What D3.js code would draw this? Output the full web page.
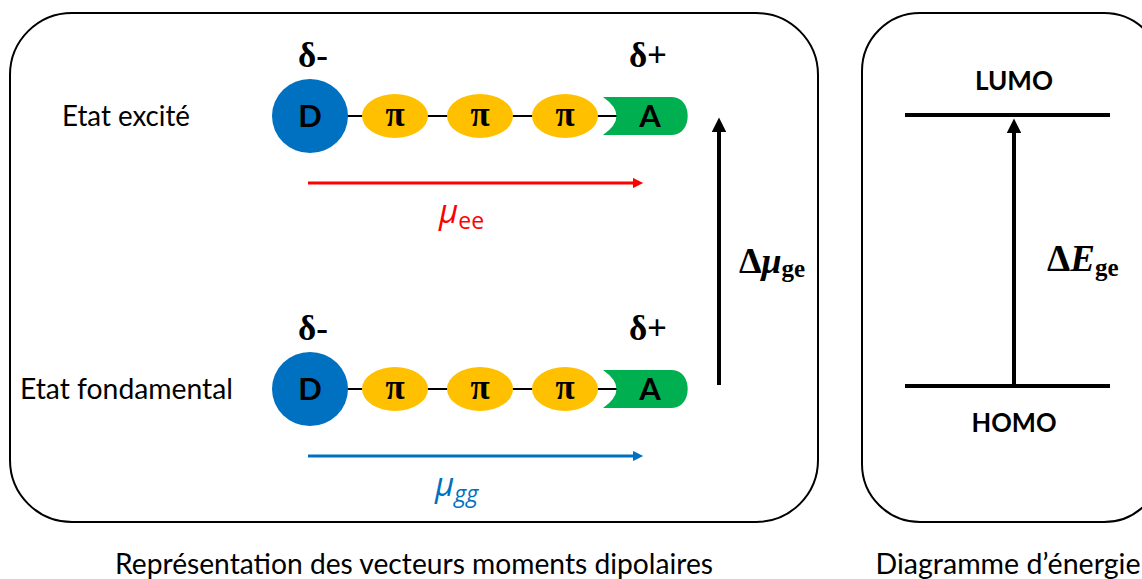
<!DOCTYPE html>
<html>
<head>
<meta charset="utf-8">
<script src="https://cdn.jsdelivr.net/npm/d3@7"></script>
<style>
  body { margin: 0; background: #fff; }
  svg { display: block; }
</style>
</head>
<body>
<div id="diagram"></div>
<script>
// states shown on the left panel (top = excited, bottom = ground)
const states = ["Etat excité", "Etat fondamental"];
const stateLabelWidths = [128, 213];
const dipoleLabels = [
  { mu: "μ", sub: "ee", subItalic: false, color: "#ff0000" },
  { mu: "μ", sub: "gg", subItalic: true, color: "#0070c0" }
];
// donor - pi bridge - acceptor chain
const chainUnits = ["D", "π", "π", "π", "A"];
const chainKinds = ["donor", "pi", "pi", "pi", "acceptor"];
const charges = ["δ-", "δ+"];
// energy levels for the right panel
const levels = ["HOMO", "LUMO"];
const levelLabelWidths = { HOMO: 85, LUMO: 78 };
const captions = ["Représentation des vecteurs moments dipolaires", "Diagramme d’énergie"];
const captionWidths = [598, 265];

const width = 1142, height = 579;
const sans = "Lato, 'Open Sans', sans-serif";
const serif = "'Liberation Serif', 'DejaVu Serif', serif";

const svg = d3.select("#diagram").append("svg")
  .attr("width", width)
  .attr("height", height);

const defs = svg.append("defs");

// scales
const yState = d3.scalePoint().domain(states).range([116, 389]);
const xChain = d3.scalePoint().domain(d3.range(chainUnits.length)).range([310, 650]);
const yLevel = d3.scalePoint().domain(levels).range([386, 115]);

// panel frames
svg.append("rect")
  .attr("x", 10).attr("y", 13)
  .attr("width", 808).attr("height", 509)
  .attr("rx", 62).attr("ry", 62)
  .attr("fill", "none").attr("stroke", "#000").attr("stroke-width", 2);

svg.append("rect")
  .attr("x", 862).attr("y", 13)
  .attr("width", 300).attr("height", 509)
  .attr("rx", 58).attr("ry", 58)
  .attr("fill", "none").attr("stroke", "#000").attr("stroke-width", 2);

// one group per state
const row = svg.selectAll("g.state")
  .data(states)
  .join("g")
  .attr("class", "state")
  .attr("transform", d => `translate(0,${yState(d)})`);

row.append("text")
  .attr("x", (d, i) => i === 0 ? 62 : 20)
  .attr("y", 10)
  .attr("font-family", sans)
  .attr("font-size", 28)
  .attr("textLength", (d, i) => stateLabelWidths[i])
  .attr("lengthAdjust", "spacingAndGlyphs")
  .attr("fill", "#000")
  .text(d => d);

// bonds
row.append("line")
  .attr("x1", xChain(0)).attr("x2", xChain(4) - 20)
  .attr("y1", 0).attr("y2", 0)
  .attr("stroke", "#000").attr("stroke-width", 2);

// chain units
row.each(function() {
  const g = d3.select(this);
  chainUnits.forEach((u, i) => {
    const cx = xChain(i);
    const kind = chainKinds[i];
    if (kind === "donor") {
      g.append("ellipse")
        .attr("cx", cx).attr("cy", 0)
        .attr("rx", 38).attr("ry", 37)
        .attr("fill", "#0070c0");
    } else if (kind === "pi") {
      g.append("ellipse")
        .attr("cx", cx).attr("cy", 0)
        .attr("rx", 33).attr("ry", 22)
        .attr("fill", "#ffc000");
    } else {
      const l = cx - 47, r = cx + 38, t = -19, b = 19;
      const p = d3.path();
      p.moveTo(l, t);
      p.lineTo(r - 16, t);
      p.bezierCurveTo(r + 5, t, r + 5, b, r - 16, b);
      p.lineTo(l, b);
      p.quadraticCurveTo(l + 27, 0, l, t);
      p.closePath();
      g.append("path").attr("d", p.toString()).attr("fill", "#00b050");
    }
    g.append("text")
      .attr("x", cx).attr("y", kind === "pi" ? 10 : 11)
      .attr("text-anchor", "middle")
      .attr("font-family", kind === "pi" ? serif : sans)
      .attr("font-weight", "bold")
      .attr("font-size", kind === "pi" ? 35 : 31)
      .attr("fill", "#000")
      .text(u);
  });
});

// partial charges above the donor and acceptor
row.selectAll("text.charge")
  .data(charges)
  .join("text")
  .attr("class", "charge")
  .attr("x", (d, i) => i === 0 ? xChain(0) + 3 : xChain(4) - 2)
  .attr("y", -49)
  .attr("text-anchor", "middle")
  .attr("font-family", serif)
  .attr("font-weight", "bold")
  .attr("font-size", 35)
  .attr("fill", "#000")
  .text(d => d);

// dipole moment arrows
dipoleLabels.forEach((d, i) => {
  defs.append("marker")
    .attr("id", "head" + i)
    .attr("viewBox", "0 0 10 10")
    .attr("refX", 0).attr("refY", 5)
    .attr("markerWidth", 4).attr("markerHeight", 3.4)
    .attr("markerUnits", "strokeWidth")
    .attr("orient", "auto")
    .append("path").attr("d", "M0,0L10,5L0,10Z").attr("fill", d.color);
});

row.append("line")
  .attr("x1", 308).attr("x2", 633)
  .attr("y1", 67).attr("y2", 67)
  .attr("stroke", (d, i) => dipoleLabels[i].color)
  .attr("stroke-width", 3)
  .attr("marker-end", (d, i) => `url(#head${i})`);

const mu = row.append("text")
  .attr("x", (d, i) => i === 0 ? 439 : 435).attr("y", 107)
  .attr("font-family", "'Open Sans', sans-serif")
  .attr("font-size", 33)
  .attr("fill", (d, i) => dipoleLabels[i].color);
mu.append("tspan").attr("font-style", "italic").text((d, i) => dipoleLabels[i].mu);
mu.append("tspan")
  .attr("font-size", 23).attr("dy", 6)
  .attr("font-style", (d, i) => dipoleLabels[i].subItalic ? "italic" : "normal")
  .text((d, i) => dipoleLabels[i].sub);

// black arrow marker
defs.append("marker")
  .attr("id", "headBlack")
  .attr("viewBox", "0 0 10 10")
  .attr("refX", 0).attr("refY", 5)
  .attr("markerWidth", 4).attr("markerHeight", 3.6)
  .attr("markerUnits", "strokeWidth")
  .attr("orient", "auto")
  .append("path").attr("d", "M0,0L10,5L0,10Z").attr("fill", "#000");

// change of dipole moment
svg.append("line")
  .attr("x1", 719).attr("x2", 719)
  .attr("y1", yState(states[1]) - 4).attr("y2", yState(states[0]) + 16)
  .attr("stroke", "#000").attr("stroke-width", 4)
  .attr("marker-end", "url(#headBlack)");

const dmu = svg.append("text")
  .attr("x", 739).attr("y", 273)
  .attr("font-family", serif)
  .attr("font-weight", "bold")
  .attr("font-size", 36)
  .attr("fill", "#000");
dmu.append("tspan").text("Δ");
dmu.append("tspan").attr("font-style", "italic").text("μ");
dmu.append("tspan").attr("font-size", 25).attr("dy", 4).text("ge");

// energy levels
svg.selectAll("line.level")
  .data(levels)
  .join("line")
  .attr("class", "level")
  .attr("x1", 905).attr("x2", 1110)
  .attr("y1", d => yLevel(d)).attr("y2", d => yLevel(d))
  .attr("stroke", "#000").attr("stroke-width", 4);

svg.selectAll("text.level")
  .data(levels)
  .join("text")
  .attr("class", "level")
  .attr("x", 1014)
  .attr("y", d => d === "LUMO" ? yLevel(d) - 25 : yLevel(d) + 46)
  .attr("text-anchor", "middle")
  .attr("font-family", sans)
  .attr("font-weight", "bold")
  .attr("font-size", 26)
  .attr("textLength", d => levelLabelWidths[d])
  .attr("lengthAdjust", "spacingAndGlyphs")
  .attr("fill", "#000")
  .text(d => d);

svg.append("line")
  .attr("x1", 1014).attr("x2", 1014)
  .attr("y1", yLevel("HOMO")).attr("y2", yLevel("LUMO") + 18)
  .attr("stroke", "#000").attr("stroke-width", 4)
  .attr("marker-end", "url(#headBlack)");

const de = svg.append("text")
  .attr("x", 1047).attr("y", 271)
  .attr("font-family", serif)
  .attr("font-weight", "bold")
  .attr("font-size", 37)
  .attr("fill", "#000");
de.append("tspan").text("Δ");
de.append("tspan").attr("font-style", "italic").text("E");
de.append("tspan").attr("font-size", 25).attr("dy", 5).text("ge");

// captions
svg.selectAll("text.caption")
  .data(captions)
  .join("text")
  .attr("class", "caption")
  .attr("x", (d, i) => i === 0 ? 414 : 1008)
  .attr("y", 574)
  .attr("text-anchor", "middle")
  .attr("font-family", sans)
  .attr("font-size", 28)
  .attr("textLength", (d, i) => captionWidths[i])
  .attr("lengthAdjust", "spacingAndGlyphs")
  .attr("fill", "#000")
  .text(d => d);
</script>
</body>
</html>
